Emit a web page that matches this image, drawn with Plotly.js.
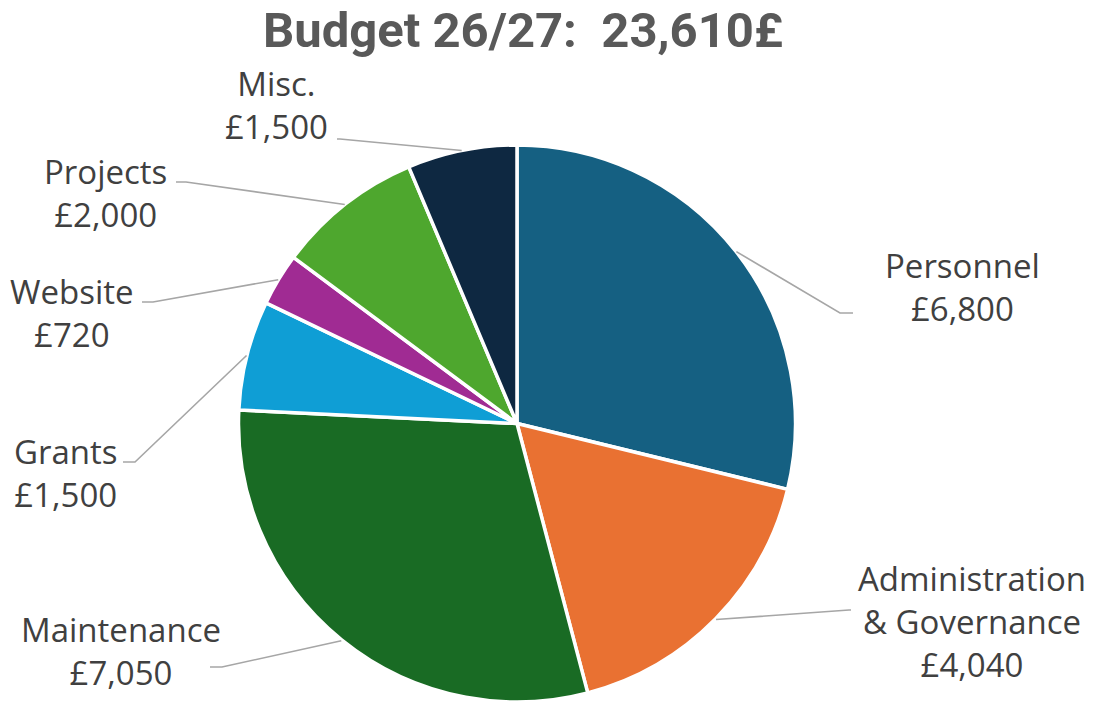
<!DOCTYPE html>
<html>
<head>
<meta charset="utf-8">
<script src="https://cdn.plot.ly/plotly-3.0.1.min.js"></script>
<style>html,body{margin:0;padding:0;background:#fff;}#chart{width:1101px;height:702px;}</style>
</head>
<body>
<div id="chart"></div>
<script>
// ---- data ----
const categories = ["Personnel", "Administration<br>& Governance", "Maintenance", "Grants", "Website", "Projects", "Misc."];
const values = [6800, 4040, 7050, 1500, 720, 2000, 1500];
const colors = ["#156082", "#E97132", "#196B24", "#0F9ED5", "#A02B93", "#4EA72E", "#0E2841"];
const titleText = "Budget 26/27:  23,610£";

// ---- layout constants (pixels) ----
const W = 1101, H = 702;
const CX = 517, CY = 424, R = 279;
// label centre positions and leader elbow points (layout only)
const labelPos = [[962, 287], [972, 621], [121, 651], [66, 473], [72, 313], [105, 193], [276, 105]];
const elbowPos = [[[840, 313], [853, 313]], [[849, 610], [851, 610]], [[222, 667], [210, 667]],
                  [[135, 462], [123, 462]], [[153, 302], [142, 302]], [[186, 182], [176, 182]],
                  [[340, 139], [337, 139]]];

const px = x => x / W;
const py = y => 1 - y / H;

const total = values.reduce((a, b) => a + b, 0);
let cum = 0;
const shapes = [];
const annotations = [];
values.forEach((v, i) => {
  const mid = (cum + v / 2) / total * 2 * Math.PI; // clockwise from 12 o'clock
  cum += v;
  const sx = CX + R * Math.sin(mid);
  const sy = CY - R * Math.cos(mid);
  const pts = [[sx, sy]].concat(elbowPos[i]);
  const path = pts.map((p, k) => (k ? "L" : "M") + px(p[0]).toFixed(5) + "," + py(p[1]).toFixed(5)).join(" ");
  shapes.push({type: "path", xref: "paper", yref: "paper", path: path,
               line: {color: "#A6A6A6", width: 1.6}});
  annotations.push({xref: "paper", yref: "paper", x: px(labelPos[i][0]), y: py(labelPos[i][1]),
    xanchor: "center", yanchor: "middle", showarrow: false, align: "center",
    text: categories[i] + "<br>£" + v.toLocaleString("en-GB"),
    font: {family: "Open Sans, sans-serif", size: 33, color: "#404040"}});
});

const trace = {
  type: "pie",
  labels: categories,
  values: values,
  sort: false,
  direction: "clockwise",
  rotation: 0,
  textinfo: "none",
  hoverinfo: "label+value",
  marker: {colors: colors, line: {color: "#ffffff", width: 3.5}},
  domain: {x: [(CX - R) / W, (CX + R) / W], y: [(H - CY - R) / H, (H - CY + R) / H]},
  showlegend: false
};

const layout = {
  width: W, height: H,
  margin: {l: 0, r: 0, t: 0, b: 0},
  paper_bgcolor: "#ffffff",
  showlegend: false,
  title: {text: "<b>" + titleText + "</b>", x: 523 / W, xanchor: "center", y: 1 - 30 / H, yanchor: "middle",
          font: {family: "Roboto, sans-serif", size: 49, color: "#595959"}},
  shapes: shapes,
  annotations: annotations
};

Plotly.newPlot("chart", [trace], layout, {displayModeBar: false, staticPlot: true});
</script>
</body>
</html>
